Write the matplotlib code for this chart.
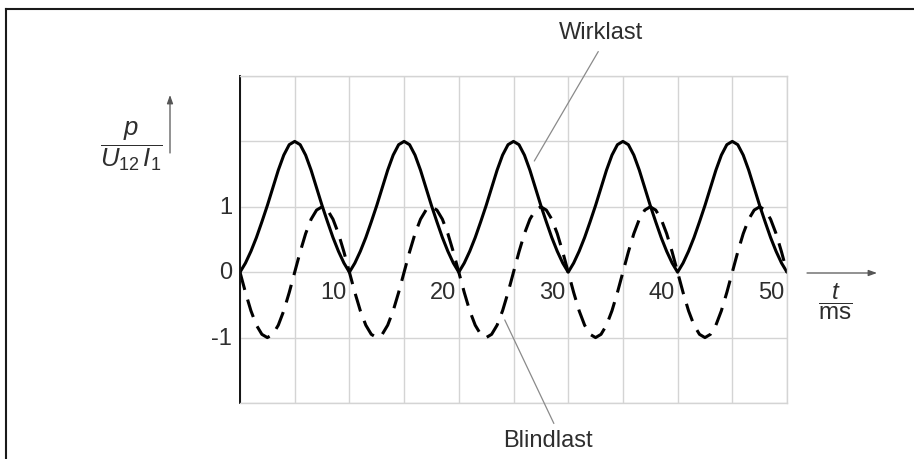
import numpy as np
import matplotlib.pyplot as plt
from matplotlib.lines import Line2D

plt.rcParams['font.family'] = ['Liberation Sans', 'DejaVu Sans']
plt.rcParams['mathtext.fontset'] = 'custom'
plt.rcParams['mathtext.rm'] = 'Liberation Sans'
plt.rcParams['mathtext.it'] = 'Liberation Sans:italic'

# one period (10 ms), every 0.5 ms
t_period = [0.0, 0.5, 1.0, 1.5, 2.0, 2.5, 3.0, 3.5, 4.0, 4.5,
            5.0, 5.5, 6.0, 6.5, 7.0, 7.5, 8.0, 8.5, 9.0, 9.5]
p_wirklast = [0.0, 0.14, 0.32, 0.53, 0.77, 1.02, 1.29, 1.56, 1.79, 1.95,
              2.0, 1.95, 1.79, 1.56, 1.29, 1.02, 0.77, 0.53, 0.32, 0.14]
p_blindlast = [0.0, -0.31, -0.59, -0.81, -0.95, -1.0, -0.95, -0.81, -0.59, -0.31,
               0.0, 0.31, 0.59, 0.81, 0.95, 1.0, 0.95, 0.81, 0.59, 0.31]
n_periods = 5
period_ms = 10

x_labels = [10, 20, 30, 40, 50]
y_labels = [1, 0, -1]

W, H = 914, 459
txt = '#2e2e2e'
grid_c = '#d4d4d4'


def fx(px):
    return px / W


def fy(py):
    return 1 - py / H


t = np.concatenate([np.array(t_period) + period_ms * k for k in range(n_periods)] + [[50.0]])
wirk = np.concatenate([p_wirklast] * n_periods + [[0.0]])
blind = np.concatenate([p_blindlast] * n_periods + [[0.0]])

fig = plt.figure(figsize=(W / 100, H / 100), dpi=100)
ax = fig.add_axes([fx(240), fy(403), fx(787) - fx(240), fy(76) - fy(403)])

ax.set_xlim(0, 50)
ax.set_ylim(-2, 3)
ax.set_xticks(np.arange(0, 51, 5))
ax.set_yticks(np.arange(-2, 4, 1))
ax.tick_params(length=0, labelbottom=False, labelleft=False)
ax.grid(True, color=grid_c, lw=1.0)
ax.set_axisbelow(True)
for s in ['top', 'right', 'bottom']:
    ax.spines[s].set_color(grid_c)
    ax.spines[s].set_linewidth(1.0)
ax.spines['left'].set_color('#111111')
ax.spines['left'].set_linewidth(1.4)

ax.plot(t, wirk, color='black', lw=2.2, solid_capstyle='round')
ax.plot(t, blind, color='black', lw=2.2, linestyle=(0, (6, 3.3)))

for v in x_labels:
    ax.annotate(str(v), xy=(v, 0), xytext=(-3, -10), textcoords='offset pixels',
                ha='right', va='top', fontsize=17, color=txt)
for v in y_labels:
    ax.annotate(str(v), xy=(0, v), xytext=(-8, -1), textcoords='offset pixels',
                ha='right', va='center', fontsize=17, color=txt)

# annotations
ax.annotate('Wirklast', xy=(26.9, 1.7), xytext=(fx(601), fy(33)), textcoords='figure fraction',
            ha='center', va='center', fontsize=17, color=txt,
            arrowprops=dict(arrowstyle='-', color='#8a8a8a', lw=0.9,
                            shrinkA=4, shrinkB=0, relpos=(0.52, 0)))
ax.annotate('Blindlast', xy=(24.2, -0.73), xytext=(fx(548), fy(441)), textcoords='figure fraction',
            ha='center', va='center', fontsize=17, color=txt,
            arrowprops=dict(arrowstyle='-', color='#8a8a8a', lw=0.9,
                            shrinkA=3, shrinkB=0, relpos=(0.6, 1)))

# axis labels and arrows
fig.text(fx(131), fy(146), r'$\dfrac{p}{U_{12}\,I_1}$', ha='center', va='center',
         fontsize=18.5, color=txt)
fig.text(fx(835), fy(302), r'$\dfrac{t}{\mathrm{ms}}$', ha='center', va='center',
         fontsize=17.5, color=txt)
ax.annotate('', xy=(fx(170), fy(95)), xytext=(fx(170), fy(153)), xycoords='figure fraction',
            textcoords='figure fraction',
            arrowprops=dict(arrowstyle='-|>,head_length=0.5,head_width=0.18',
                            color='#555555', lw=0.9, shrinkA=0, shrinkB=0))
ax.annotate('', xy=(fx(877), fy(273)), xytext=(fx(807), fy(273)), xycoords='figure fraction',
            textcoords='figure fraction',
            arrowprops=dict(arrowstyle='-|>,head_length=0.5,head_width=0.18',
                            color='#555555', lw=0.9, shrinkA=0, shrinkB=0))

# picture frame (only top and left edges visible)
fig.add_artist(Line2D([fx(6), 1.0], [fy(9), fy(9)], transform=fig.transFigure,
                      color='#1a1a1a', lw=1.5))
fig.add_artist(Line2D([fx(6), fx(6)], [fy(9), 0.0], transform=fig.transFigure,
                      color='#1a1a1a', lw=1.5))

fig.savefig('out.png', dpi=100)
